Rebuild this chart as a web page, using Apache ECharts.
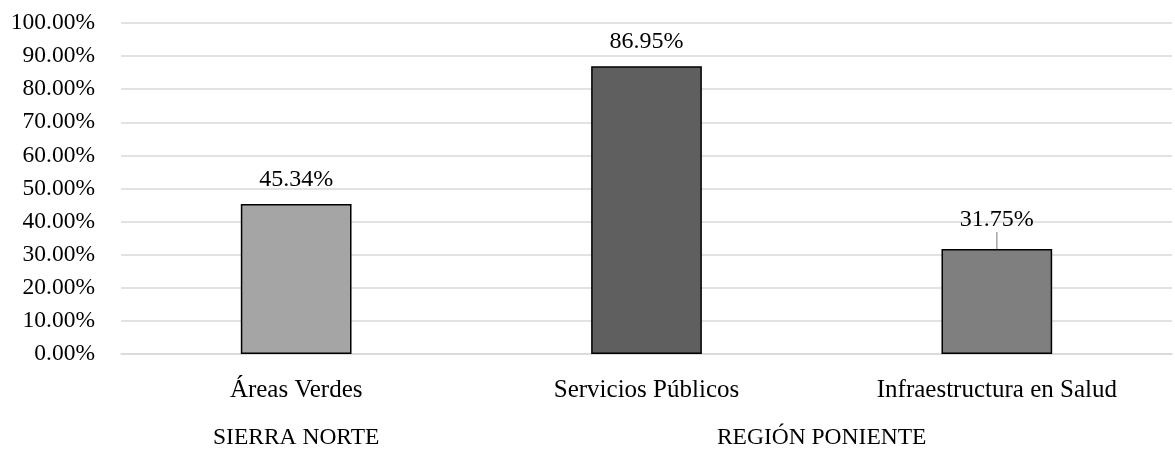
<!DOCTYPE html>
<html>
<head>
<meta charset="utf-8">
<script src="https://cdn.jsdelivr.net/npm/echarts@6/dist/echarts.min.js"></script>
<style>html,body{margin:0;padding:0;background:#fff}#c{width:1175px;height:449px}</style>
</head>
<body>
<div id="c"></div>
<script>
const categories = ['Áreas Verdes', 'Servicios Públicos', 'Infraestructura en Salud'];
const values = [45.34, 86.95, 31.75];
const barColors = ['#a5a5a5', '#5f5f5f', '#7f7f7f'];
const groups = ['SIERRA NORTE', 'REGIÓN PONIENTE'];
const groupSpans = [1, 2];
const yTicks = [0, 10, 20, 30, 40, 50, 60, 70, 80, 90, 100];

const FONT = '"Liberation Serif", serif';
const groupCenters = {};
let acc = 0;
groups.forEach((g, i) => { groupCenters[(acc + groupSpans[i] / 2).toFixed(2)] = g; acc += groupSpans[i]; });

const chart = echarts.init(document.getElementById('c'), null, {renderer: 'canvas'});
chart.setOption({
  animation: false,
  textStyle: {fontFamily: FONT},
  grid: {left: 121, right: 3, top: 23, bottom: 95, containLabel: false, outerBoundsMode: 'none'},
  xAxis: [{
    type: 'category',
    data: categories,
    axisLine: {show: true, lineStyle: {color: '#d9d9d9', width: 1.5}},
    axisTick: {show: false},
    axisLabel: {color: '#000', fontSize: 25, fontFamily: FONT, margin: 24}
  }, {
    type: 'value',
    position: 'bottom',
    offset: 72,
    min: 0, max: categories.length, interval: 0.5,
    axisLine: {show: false}, axisTick: {show: false}, splitLine: {show: false},
    axisLabel: {color: '#000', fontSize: 23.5, fontFamily: FONT, margin: 0,
      formatter: v => groupCenters[v.toFixed(2)] || ''}
  }],
  yAxis: {
    type: 'value', min: yTicks[0], max: yTicks[yTicks.length - 1], interval: 10,
    axisLine: {show: false}, axisTick: {show: false},
    splitLine: {lineStyle: {color: '#d9d9d9', width: 1.5}},
    axisLabel: {color: '#000', fontSize: 23.5, fontFamily: FONT, margin: 26,
      formatter: v => v.toFixed(2) + '%'}
  },
  series: [{
    type: 'bar',
    barWidth: '31.6%',
    data: values.map((v, i) => ({
      value: v,
      itemStyle: {color: barColors[i], borderColor: '#000', borderWidth: 1.5},
      labelLine: i === 2 ? {show: true, lineStyle: {color: '#a6a6a6', width: 1.5}} : {show: false}
    })),
    label: {show: true, position: 'top', distance: 12, color: '#000', fontSize: 24, fontFamily: FONT,
      formatter: p => p.value.toFixed(2) + '%'},
    labelLayout: p => p.dataIndex === 2 ? {dy: -5} : {}
  }]
});
</script>
</body>
</html>
